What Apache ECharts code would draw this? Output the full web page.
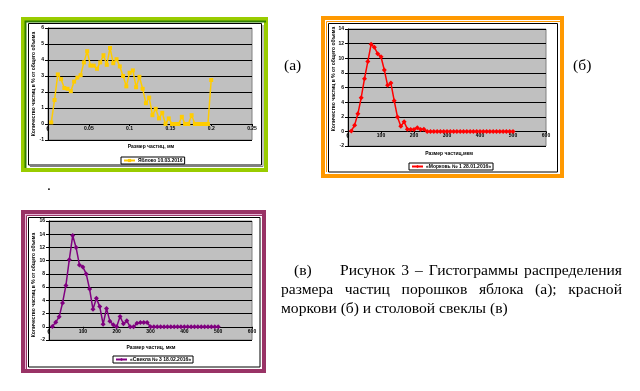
<!DOCTYPE html>
<html><head><meta charset="utf-8">
<script src="https://cdn.jsdelivr.net/npm/echarts@6/dist/echarts.min.js"></script>
<style>html,body{margin:0;padding:0;background:#fff}#c{width:640px;height:391px}</style>
</head><body><div id="c"></div>
<script>
// ---- data ----
const appleName = 'Яблоко 10.03.2016';
const appleX = [0.004,0.008,0.012,0.016,0.02,0.024,0.028,0.032,0.036,0.04,
  0.044,0.048,0.052,0.056,0.06,0.064,0.068,0.072,0.076,0.08,
  0.084,0.088,0.092,0.096,0.1,0.104,0.108,0.112,0.116,0.12,
  0.124,0.128,0.132,0.136,0.14,0.144,0.148,0.152,0.156,0.16,
  0.164,0.168,0.172,0.176,0.18,0.184,0.188,0.192,0.196,0.2];
const appleY = [0.1,1.5,3.1,2.8,2.25,2.2,2.05,2.65,2.9,3.05,
  3.85,4.55,3.65,3.65,3.45,3.85,4.3,3.7,4.75,3.8,
  4.05,3.6,3.0,2.35,3.2,3.35,2.3,2.95,2.2,1.3,
  1.65,0.55,0.95,0.35,0.7,0,0.35,0,0,0,
  0.45,0,0,0.55,0,0,0,0,0,2.75];
const carrotName = '«Морковь № 1 28.01.2016»';
const carrotX = [10,20,30,40,50,60,70,80,90,100,110,120,130,140,150,160,170,180,190,200,
  210,220,230,240,250,260,270,280,290,300,310,320,330,340,350,360,370,380,390,400,
  410,420,430,440,450,460,470,480,490,500];
const carrotY = [0.05,0.85,2.4,4.6,7.2,9.55,11.9,11.5,10.6,10.2,
  8.4,6.3,6.6,4.2,1.95,0.7,1.3,0.3,0.25,0.25,
  0.5,0.25,0.3,0,0,0,0,0,0,0,
  0,0,0,0,0,0,0,0,0,0,
  0,0,0,0,0,0,0,0,0,0];
const beetName = '«Свекла № 3 18.02.2016»';
const beetX = [10,20,30,40,50,60,70,80,90,100,110,120,130,140,150,160,170,180,190,200,
  210,220,230,240,250,260,270,280,290,300,310,320,330,340,350,360,370,380,390,400,
  410,420,430,440,450,460,470,480,490,500];
const beetY = [0.05,0.7,1.5,3.6,6.25,10.15,13.8,12.0,9.35,9.05,
  8.0,5.7,2.65,4.3,3.05,0.4,2.75,0.85,0.3,0,
  1.55,0.45,0.9,0,0,0.55,0.65,0.65,0.65,0,
  0,0,0,0,0,0,0,0,0,0,
  0,0,0,0,0,0,0,0,0,0];
const yTitle = 'Количество частиц в % от общего объема';
const xTitleA = 'Размер частиц, мм';
const xTitleB = 'Размер частиц,мкм';
const xTitleC = 'Размер частиц, мкм';
const captionLine1 = ['Рисунок','3','–','Гистограммы','распределения'];
const captionLine2 = ['размера','частиц','порошков','яблока','(а);','красной'];
const captionLine3 = 'моркови (б) и столовой свеклы (в)';

// ---- styles ----
const SANS = 'Liberation Sans', SERIF = 'Liberation Serif';
const tickFont = {fontSize:5, fontWeight:'bold', fontFamily:SANS, color:'#000'};
function grid(l,t,w,h){return {left:l,top:t,width:w,height:h,show:true,backgroundColor:'#C0C0C0',borderColor:'#808080',borderWidth:1};}
// x axis line sits at y = 0 (Excel "crosses at 0"): shift from the bottom by offset
function xAx(i,max,step,off){return {type:'value',gridIndex:i,min:0,max:max,interval:step,position:'bottom',offset:off,
  axisLine:{show:true,onZero:false,lineStyle:{color:'#000',width:1}},
  axisTick:{show:true,length:2,lineStyle:{color:'#000'}},
  axisLabel:Object.assign({margin:2,showMinLabel:true,showMaxLabel:true,hideOverlap:false},tickFont),splitLine:{show:false}};}
function yAx(i,min,max,step){return {type:'value',gridIndex:i,min:min,max:max,interval:step,
  axisLine:{show:true,onZero:false,lineStyle:{color:'#000',width:1}},
  axisTick:{show:true,length:3,lineStyle:{color:'#000'}},
  axisLabel:Object.assign({margin:4,showMinLabel:true,showMaxLabel:true},tickFont),
  splitLine:{show:true,lineStyle:{color:'#000',width:1}}};}
function leg(name,l,t){return {data:[name],left:l,top:t,orient:'horizontal',borderColor:'#000',borderWidth:1,
  padding:[1,2],itemWidth:11,itemHeight:4,itemGap:2,textStyle:{fontSize:5,fontWeight:'bold',fontFamily:SANS,color:'#000',padding:[0,0,0,-2]}};}
function txt(t,x,y,opt){return {type:'text',x:x,y:y,rotation:(opt&&opt.rot)||0,silent:true,
  style:{text:t,font:(opt&&opt.font)||('bold 5px '+SANS),fill:'#000',
  textAlign:(opt&&opt.align)||'center',textVerticalAlign:(opt&&opt.valign)||'middle',align:(opt&&opt.align)||'center',verticalAlign:(opt&&opt.valign)||'middle'}};}
function rect(x,y,w,h,stroke,lw){return {type:'rect',silent:true,shape:{x:x,y:y,width:w,height:h},style:{fill:null,stroke:stroke,lineWidth:lw}};}
function pl(pts,stroke,lw){return {type:'polyline',silent:true,shape:{points:pts},style:{fill:null,stroke:stroke,lineWidth:lw}};}
const cap = '15.6px ' + SERIF;

// justified caption line (text layout only)
const mctx = document.createElement('canvas').getContext('2d');
mctx.font = cap;
function justify(words,x0,x1,y){
  const ws = words.map(w=>mctx.measureText(w).width);
  const sum = ws.reduce((a,b)=>a+b,0);
  const gap = (x1-x0-sum)/(words.length-1);
  let x = x0; const out = [];
  words.forEach((w,i)=>{out.push(txt(w,x,y,{font:cap,align:'left'})); x += ws[i]+gap;});
  return out;
}

const graphics = [
    // frame (a)
    rect(23,19,243,151,'#99CC00',4),
    pl([[25.5,168],[25.5,21.5],[266,21.5]],'#338000',2),
    rect(28.5,23.5,233,141.5,'#000',1),
    pl([[30,166.5],[263,166.5],[263,25]],'#808080',1),
    // frame (b)
    rect(323,18,239,158,'#FF9900',4),
    pl([[326.5,172],[326.5,21.5],[560,21.5]],'#FF9900',1),
    rect(328.5,23.5,229,148.5,'#000',1),
    // frame (c)
    rect(23,212,241,159,'#993366',4),
    pl([[25.5,369],[25.5,214.5],[262,214.5]],'#E8B8D8',1),
    pl([[26.5,369],[26.5,215.5],[262,215.5]],'#993366',1),
    rect(28.5,217.5,231.5,149.5,'#000',1),
    // axis titles
    txt(xTitleA,151,147), txt(yTitle,34,84,{rot:Math.PI/2}),
    txt(xTitleB,449,154), txt(yTitle,334,79,{rot:Math.PI/2}),
    txt(xTitleC,151,348), txt(yTitle,34,285,{rot:Math.PI/2}),
    // captions
    txt('(а)',284,66,{font:cap,align:'left'}),
    txt('(б)',573,66,{font:cap,align:'left'}),
    txt('.',47,186,{font:cap,align:'left'}),
    txt('(в)',294,271,{font:cap,align:'left'})
  ].concat(justify(captionLine1,340,622,271))
   .concat(justify(captionLine2,281,622,289.5))
   .concat([txt(captionLine3,281,309,{font:cap,align:'left'})]);

const option = {
  animation:false,
  backgroundColor:'#fff',
  grid:[grid(48,28,204,112),grid(348,29,198,117),grid(49,221,203,119)],
  xAxis:[xAx(0,0.25,0.05,-16),xAx(1,600,100,-14.6),xAx(2,600,100,-13.2)],
  yAxis:[yAx(0,-1,6,1),yAx(1,-2,14,2),yAx(2,-2,16,2)],
  legend:[leg(appleName,121,157),leg(carrotName,409,163),leg(beetName,113,356)],
  series:[
    {type:'line',name:appleName,xAxisIndex:0,yAxisIndex:0,data:appleX.map((x,i)=>[x,appleY[i]]),
     symbol:'rect',symbolSize:4,lineStyle:{color:'#FFCC00',width:1.5},itemStyle:{color:'#FFCC00'}},
    {type:'line',name:carrotName,xAxisIndex:1,yAxisIndex:1,data:carrotX.map((x,i)=>[x,carrotY[i]]),
     symbol:'diamond',symbolSize:5,lineStyle:{color:'#FF0000',width:1.5},itemStyle:{color:'#FF0000'}},
    {type:'line',name:beetName,xAxisIndex:2,yAxisIndex:2,data:beetX.map((x,i)=>[x,beetY[i]]),
     symbol:'diamond',symbolSize:5,lineStyle:{color:'#800080',width:1.5},itemStyle:{color:'#800080'}}
  ],
  graphic:graphics
};
const chart = echarts.init(document.getElementById('c'),null,{renderer:'canvas'});
chart.setOption(option);
// the "0" label at the axes' crossing, placed through the library's own scale
const zeroLabels = [0,1,2].map(i=>{
  const p = chart.convertToPixel({gridIndex:i},[0,0]);
  return txt('0',p[0],p[1]+3,{valign:'top'});
});
chart.setOption({graphic:graphics.concat(zeroLabels)});
</script></body></html>
